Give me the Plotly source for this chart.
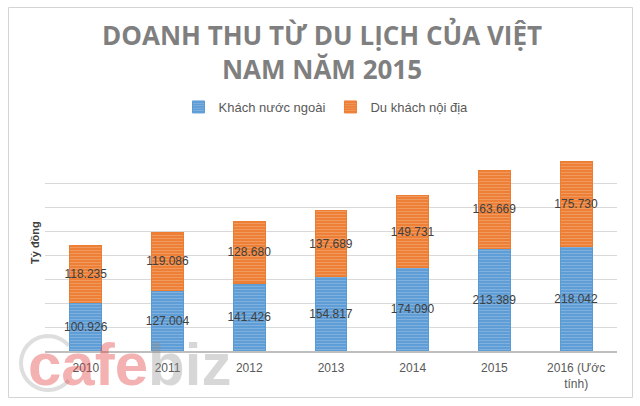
import numpy as np
import plotly.graph_objects as go

categories = ["2010", "2011", "2012", "2013", "2014", "2015", "2016 (Ước<br>tính)"]
khach_nuoc_ngoai = [100.926, 127.004, 141.426, 154.817, 174.090, 213.389, 218.042]
du_khach_noi_dia = [118.235, 119.086, 128.680, 137.689, 149.731, 163.669, 175.730]

W, H = 640, 406
L, R, T, B = 45, 617, 159, 351  # plot area in pixels


def px(x):
    return (x - L) / (R - L)


def py(y):
    return (B - y) / (B - T)


def bar(name, vals, color):
    return go.Bar(
        name=name,
        x=categories,
        y=vals,
        width=0.39,
        marker=dict(
            color=color,
            line=dict(color=color, width=1),
            pattern=dict(shape="-", fillmode="overlay", fgcolor="rgba(255,255,255,0.45)",
                         size=3, solidity=0.4),
        ),
        text=[f"{v:.3f}" for v in vals],
        textposition="inside",
        insidetextanchor="middle",
        constraintext="none",
        textangle=0,
        textfont=dict(family="Liberation Sans", size=12, color="#404040"),
        cliponaxis=False,
        hoverinfo="skip",
    )


fig = go.Figure()
fig.add_trace(bar("Khách nước ngoài", khach_nuoc_ngoai, "#5B9BD5"))
fig.add_trace(bar("Du khách nội địa", du_khach_noi_dia, "#ED7D31"))

fig.update_layout(
    width=W, height=H,
    barmode="stack",
    plot_bgcolor="white", paper_bgcolor="white",
    margin=dict(l=L, r=W - R, t=T, b=H - B, autoexpand=False),
    showlegend=True,
    legend=dict(orientation="h", x=px(326), xanchor="center", y=py(107), yanchor="middle",
                font=dict(family="Liberation Sans", size=13, color="#595959"),
                itemwidth=30, traceorder="normal", bgcolor="rgba(0,0,0,0)"),
    xaxis=dict(showgrid=False, showline=True, linecolor="#bfbfbf", linewidth=1.5,
               automargin=False, ticks="", ticklabelstandoff=5,
               tickfont=dict(family="Liberation Sans", size=12, color="#595959")),
    yaxis=dict(range=[0, 400], dtick=50, showticklabels=False, showgrid=True,
               automargin=False,
               gridcolor="#d9d9d9", gridwidth=1, zeroline=False, showline=False),
    font=dict(family="Liberation Sans"),
)

# Title
fig.add_annotation(
    text="DOANH THU TỪ DU LỊCH CỦA VIỆT<br>NAM NĂM 2015",
    xref="paper", yref="paper", x=px(322), y=py(51.75), xanchor="center", yanchor="middle",
    showarrow=False,
    font=dict(family="Open Sans", size=26, color="#7f7f7f", weight="bold"),
)

# Y-axis title
fig.add_annotation(
    text="<b>Tỷ đồng</b>", textangle=-90,
    xref="paper", yref="paper", x=px(35), y=py(243), xanchor="center", yanchor="middle",
    showarrow=False, font=dict(family="Liberation Sans", size=11, color="#404040"),
)

# Watermark (logo): grey ring arc + text
ang = np.linspace(np.deg2rad(40), np.deg2rad(320), 40)
cx, cy, rr = 48, 363, 27
pts = [(px(cx + rr * np.cos(a)), py(cy - rr * np.sin(a))) for a in ang]
path = "M " + " L ".join(f"{x:.5f},{y:.5f}" for x, y in pts)
fig.add_shape(type="path", xref="paper", yref="paper", path=path,
              line=dict(color="rgba(160,160,160,0.35)", width=4))
fig.add_annotation(
    text="<span style='color:rgba(225,60,60,0.4)'>cafe</span><span style='color:rgba(140,140,140,0.35)'>biz</span>",
    xref="paper", yref="paper", x=px(26), y=py(364), xanchor="left", yanchor="middle",
    showarrow=False, font=dict(family="Liberation Sans", size=60, weight="bold"),
)

# Chart border
fig.add_shape(type="rect", xref="paper", yref="paper",
              x0=px(8.5), x1=px(632.5), y0=py(397.5), y1=py(7.5),
              line=dict(color="#d4d4d4", width=1), fillcolor="rgba(0,0,0,0)", layer="above")

fig.write_html("out.html", config={"displayModeBar": False},
               post_script="document.body.style.margin='0';document.body.style.overflow='hidden';")
